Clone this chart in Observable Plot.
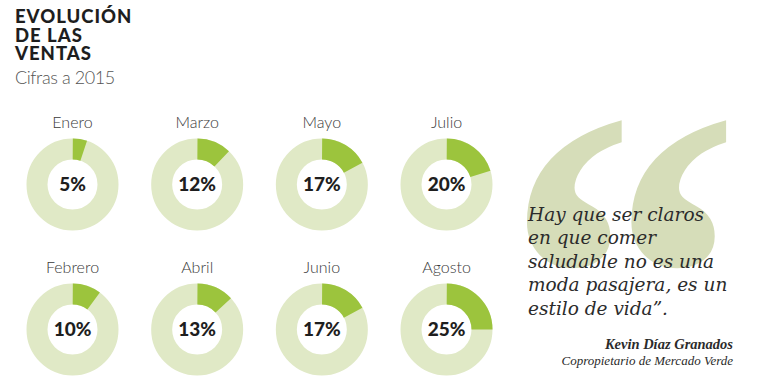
<!DOCTYPE html>
<html>
<head>
<meta charset="utf-8">
<script src="https://cdn.jsdelivr.net/npm/d3@7"></script>
<script src="https://cdn.jsdelivr.net/npm/@observablehq/plot@0.6"></script>
<style>
  html, body { margin: 0; padding: 0; background: #fff; }
  #wrap { position: relative; width: 760px; height: 386px; overflow: hidden; }
  #head { height: 96px; box-sizing: border-box; padding: 7px 0 0 15px; }
  #title { font-family: Lato, sans-serif; font-weight: 900; font-size: 18.5px; line-height: 18.5px; letter-spacing: 1px; color: #1e1e1e; }
  #sub { font-family: Lato, sans-serif; font-weight: 300; font-size: 18px; line-height: 19px; letter-spacing: -0.4px; color: #555; margin-top: 5.5px; }
  #bigq { position: absolute; left: 504px; top: 36px; font-family: "Liberation Serif", serif; font-weight: bold; font-size: 490px; line-height: 490px; color: #d6ddb9; transform: scaleX(0.97); transform-origin: 0 0; pointer-events: none; }
  #quote { position: absolute; left: 528px; top: 203px; font-family: "DejaVu Serif", serif; font-style: italic; font-size: 18.5px; line-height: 23.4px; color: #2b2b2b; }
  #author { position: absolute; right: 27px; top: 336px; text-align: right; font-family: "Liberation Serif", serif; font-style: italic; color: #2b2b2b; }
  #author .n { font-weight: bold; font-size: 14.5px; line-height: 17px; }
  #author .r { font-size: 13px; line-height: 16px; }
  #chart { position: absolute; left: 0; top: 96px; }
</style>
</head>
<body>
<div id="wrap">
  <div id="head">
    <div id="title">EVOLUCIÓN<br>DE LAS<br>VENTAS</div>
    <div id="sub">Cifras a 2015</div>
  </div>
  <div id="chart"></div>
  <div id="bigq">“</div>
  <div id="quote">Hay que ser claros<br>en que comer<br>saludable no es una<br>moda pasajera, es un<br>estilo de vida”.</div>
  <div id="author"><div class="n">Kevin Díaz Granados</div><div class="r">Copropietario de Mercado Verde</div></div>
</div>
<script>
// Data
const months = ["Enero", "Febrero", "Marzo", "Abril", "Mayo", "Junio", "Julio", "Agosto"];
const shares = [5, 10, 12, 13, 17, 17, 20, 25]; // % of sales

// Layout (grid: two months per column, first of each pair on the top row)
const data = months.map((m, i) => ({ month: m, value: shares[i], col: Math.floor(i / 2), row: i % 2 }));

const light = "#e0e9c6";
const dark = "#9cc43d";
const ringR = 35.5;    // mid radius of the ring, px
const ringW = 21;      // ring thickness, px
const C = 2 * Math.PI * ringR;

const arcMarks = data.map(d => {
  const len = (d.value / 100) * C;
  return Plot.dot([d], {
    x: "col", y: "row", r: ringR, fill: "none", stroke: dark, strokeWidth: ringW,
    strokeDasharray: `${len} ${C - len}`,
    strokeDashoffset: C / 4
  });
});

const chart = Plot.plot({
  width: 760,
  height: 290,
  margin: 0,
  x: { domain: [0, 3], range: [72, 446], axis: null },
  y: { domain: [0, 1], range: [88, 233], axis: null },
  marks: [
    Plot.dot(data, { x: "col", y: "row", r: ringR, fill: "none", stroke: light, strokeWidth: ringW }),
    ...arcMarks,
    Plot.text(data, { x: "col", y: "row", text: "month", dy: -62, fontSize: 16, fontWeight: 300, fill: "#3a3a3a", fontFamily: "Lato, sans-serif" }),
    Plot.text(data, { x: "col", y: "row", text: d => d.value + "%", fontSize: 19, fontWeight: 900, fill: "#1e1e1e", fontFamily: "Lato, sans-serif" })
  ]
});
document.getElementById("chart").appendChild(chart);
</script>
</body>
</html>
